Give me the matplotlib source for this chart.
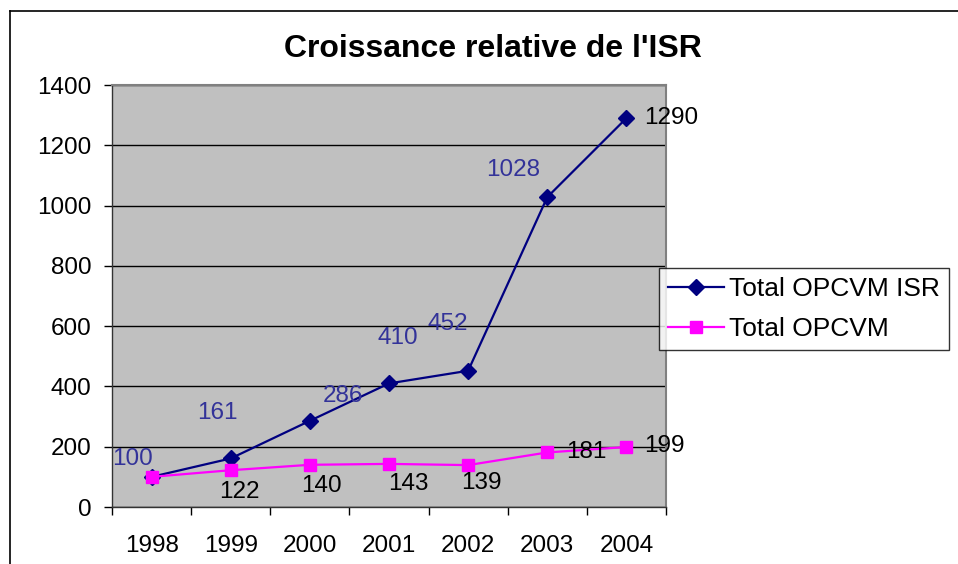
import matplotlib
matplotlib.use("Agg")
import matplotlib.pyplot as plt
from matplotlib.lines import Line2D

plt.rcParams["font.family"] = ["Liberation Sans", "DejaVu Sans"]

years = ["1998", "1999", "2000", "2001", "2002", "2003", "2004"]
isr_values = [100, 161, 286, 410, 452, 1028, 1290]
opcvm_values = [100, 122, 140, 143, 139, 181, 199]

# label offsets in pixels (dx, dy, y down)
isr_offsets = [(-19, -18), (-13, -45), (33, -25), (9, -45), (-20, -47), (-34, -27), (45, 0)]
opcvm_offsets = [None, (9, 22), (12, 21), (19, 20), (13, 18), (39, 0), (38, -1)]

W, H = 958, 564
fig = plt.figure(figsize=(W / 100, H / 100), dpi=100)
ax = fig.add_axes([112 / W, 1 - 507 / H, (666 - 112) / W, (507 - 85) / H])
ax.set_facecolor("#C0C0C0")

x = list(range(len(years)))
ax.plot(x, isr_values, color="#000080", lw=1.6, marker="D", ms=8,
        label="Total OPCVM ISR", zorder=3)
ax.plot(x, opcvm_values, color="#FF00FF", lw=1.6, marker="s", ms=9,
        label="Total OPCVM", zorder=4)

px = 0.72
for i, (v, off) in enumerate(zip(isr_values, isr_offsets)):
    col = "black" if i == len(isr_values) - 1 else "#333399"
    ax.annotate(str(v), (i, v), xytext=(off[0] * px, -off[1] * px),
                textcoords="offset points", ha="center", va="center",
                fontsize=17.5, color=col, zorder=5)
for i, (v, off) in enumerate(zip(opcvm_values, opcvm_offsets)):
    if off is None:
        continue
    ax.annotate(str(v), (i, v), xytext=(off[0] * px, -off[1] * px),
                textcoords="offset points", ha="center", va="center",
                fontsize=17.5, color="black", zorder=5)

ax.set_xlim(-0.5, len(years) - 0.5)
ax.set_ylim(0, 1400)
ax.set_yticks(range(0, 1401, 200))
ax.yaxis.grid(True, color="black", lw=1)
ax.set_axisbelow(True)

ax.set_xticks([i - 0.5 for i in range(len(years) + 1)])
ax.set_xticklabels([])
ax.set_xticks(x, minor=True)
ax.set_xticklabels(years, minor=True)
ax.tick_params(axis="x", which="major", direction="out", length=6, width=1)
ax.tick_params(axis="x", which="minor", length=0, pad=20, labelsize=17.5)
ax.tick_params(axis="y", direction="out", length=6, width=1, pad=9, labelsize=17.5)

for s in ["left", "bottom"]:
    ax.spines[s].set_color("#333333")
    ax.spines[s].set_linewidth(1)
for s in ["top", "right"]:
    ax.spines[s].set_color("#808080")
    ax.spines[s].set_linewidth(1.5)

fig.text(492.5 / W, 1 - 49 / H, "Croissance relative de l'ISR",
         ha="center", va="center", fontsize=23, fontweight="bold")

leg = fig.legend(loc="center left", bbox_to_anchor=(659 / W, 1 - 309 / H),
                 fontsize=19, frameon=True, fancybox=False, edgecolor="black",
                 handlelength=2.1, handletextpad=0.2, borderpad=0.35,
                 labelspacing=0.62, borderaxespad=0)
leg.get_frame().set_linewidth(1)

# chart area border (top and left visible)
fig.add_artist(Line2D([10 / W, 1], [1 - 11 / H, 1 - 11 / H], color="black", lw=1.2))
fig.add_artist(Line2D([10 / W, 10 / W], [0, 1 - 11 / H], color="black", lw=1.2))

fig.savefig("out.png", dpi=100)
